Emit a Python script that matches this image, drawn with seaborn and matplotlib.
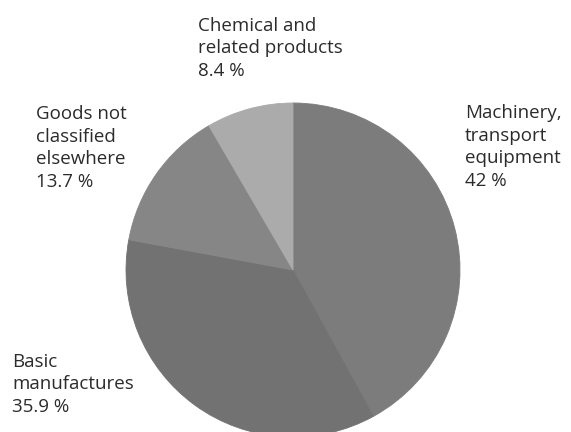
import matplotlib
matplotlib.use("Agg")
import matplotlib.pyplot as plt
import seaborn as sns

# Shares of exports by product group (clockwise from 12 o'clock)
labels = [
    "Machinery,\ntransport\nequipment",
    "Basic\nmanufactures",
    "Goods not\nclassified\nelsewhere",
    "Chemical and\nrelated products",
]
shares = [42, 35.9, 13.7, 8.4]
share_text = ["42 %", "35.9 %", "13.7 %", "8.4 %"]
colors = ["#7c7c7c", "#727272", "#868686", "#ababab"]

sns.set_theme(style="white")
plt.rcParams["font.family"] = ["Open Sans", "DejaVu Sans"]

fig = plt.figure(figsize=(5.71, 4.32), dpi=100)
ax = fig.add_axes([0, 0, 1, 1])

# pie placed in pixel coordinates (y grows upwards)
wedges, _ = ax.pie(shares, colors=colors, startangle=90, counterclock=False,
                   center=(293, 432 - 270), radius=167,
                   wedgeprops=dict(linewidth=0.6))
for w, c in zip(wedges, colors):
    w.set_edgecolor(c)
ax.set_xlim(0, 571)
ax.set_ylim(0, 432)
ax.set_aspect("equal")
ax.axis("off")

# label anchors: left edge, baseline of last line (pixels from top)
anchors = [(465, 186), (12, 412), (36, 187), (198, 76)]
for lab, pct, (x, y) in zip(labels, share_text, anchors):
    ax.text(x, 432 - y, f"{lab}\n{pct}", ha="left", va="baseline",
            fontsize=13.5, color="#2b2b2b", linespacing=1.33)

plt.savefig("out.png", dpi=100)
plt.close()
